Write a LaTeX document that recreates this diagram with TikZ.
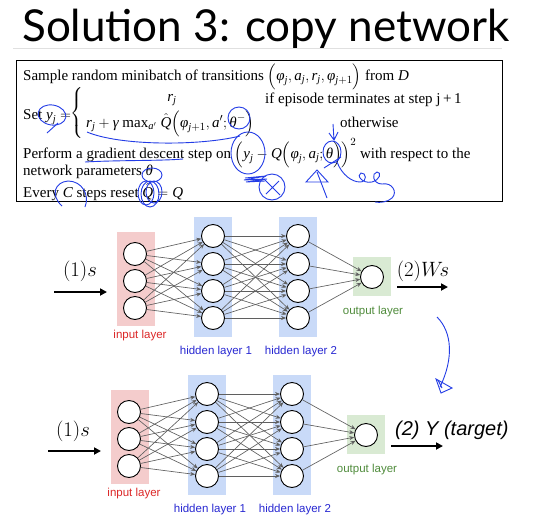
\documentclass[tikz,border=0pt]{standalone}
\usepackage{amsmath}
\usepackage{fontspec}
\setmainfont{Liberation Serif}
\newfontfamily\titlefont{Lato}
\newfontfamily\arialfont{Liberation Sans}
\usetikzlibrary{arrows.meta}
\newcommand{\vi}[1]{\textit{#1}}
\definecolor{inpfill}{RGB}{244,204,204}
\definecolor{hidfill}{RGB}{201,218,248}
\definecolor{outfill}{RGB}{217,234,211}
\definecolor{inpcol}{RGB}{220,40,40}
\definecolor{hidcol}{RGB}{40,40,210}
\definecolor{outcol}{RGB}{80,140,60}
\definecolor{edgecol}{RGB}{95,95,95}
\definecolor{blueink}{RGB}{35,60,230}
\tikzset{
  neuron/.style={circle,draw=black,fill=white,line width=0.9pt,minimum size=23pt,inner sep=0pt},
  edge/.style={draw=edgecol,line width=0.65pt,-{Stealth[length=5pt,width=4pt]}},
  iolabel/.style={font=\arialfont\fontsize{11.5}{13}\selectfont},
  bigarrow/.style={line width=1.8pt,-{Triangle[length=7pt,width=7pt]}},
  boxtext/.style={anchor=base west,inner sep=0pt,font=\fontsize{15}{17}\selectfont},
  ink/.style={draw=blueink,line width=0.9pt},
}
\newcommand{\netdraw}[3]{%
\begin{scope}[shift={(#2,#3)}]
  \fill[inpfill] (117,232) rectangle (155,326);
  \fill[hidfill] (194,217) rectangle (232,337);
  \fill[hidfill] (279,217) rectangle (317,337);
  \fill[outfill] (353,257) rectangle (391,296);
  \foreach \k/\yy in {1/254,2/281,3/308} \node[neuron] (#1i\k) at (135,\yy) {};
  \foreach \k/\yy in {1/236,2/264,3/291,4/318} \node[neuron] (#1a\k) at (213,\yy) {};
  \foreach \k/\yy in {1/236,2/264,3/291,4/318} \node[neuron] (#1b\k) at (298,\yy) {};
  \node[neuron] (#1o) at (372,277) {};
  \foreach \p in {1,2,3} \foreach \q in {1,2,3,4} \draw[edge] (#1i\p) -- (#1a\q);
  \foreach \p in {1,2,3,4} \foreach \q in {1,2,3,4} \draw[edge] (#1a\p) -- (#1b\q);
  \foreach \p in {1,2,3,4} \draw[edge] (#1b\p) -- (#1o);
  \node[iolabel,text=inpcol] (#1li) at (140,336) {input layer};
  \node[iolabel,text=hidcol] (#1la) at (216,352) {hidden layer 1};
  \node[iolabel,text=hidcol] (#1lb) at (301,352) {hidden layer 2};
  \node[iolabel,text=outcol] (#1lo) at (373,312) {output layer};
\end{scope}}
\begin{document}
\begin{tikzpicture}[x=1pt,y=-1pt]
\useasboundingbox (0,0) rectangle (536,520);
\fill[white] (0,0) rectangle (536,520);
% title
\node[anchor=base west,inner sep=0pt,font=\titlefont\fontsize{44}{50}\selectfont] (title) at (22,41) {Solution 3: copy network};
\draw[black!12,line width=0.8pt] (13,48) -- (502,48);
% algorithm box
\draw[black,line width=0.9pt] (16,60) rectangle (502,201);
\node[boxtext] (l1) at (23,80) {Sample random minibatch of transitions $\Bigl(\vi{φ}_{\vi{j}},\vi{a}_{\vi{j}},\vi{r}_{\vi{j}},\vi{φ}_{\vi{j}+1}\Bigr)$ from \vi{D}};
\node[boxtext] (set) at (23,119) {Set $\vi{y}_{\vi{j}} =$};
\node[anchor=center,inner sep=0pt,font=\fontsize{15}{17}\selectfont] (brace) at (77,113) {$\left\{\rule{0pt}{23pt}\rule[-22pt]{0pt}{22pt}\right.$};
\node[anchor=base,inner sep=0pt,font=\fontsize{15}{17}\selectfont] (c1a) at (172,101) {$\vi{r}_{\vi{j}}$};
\node[boxtext] (c1b) at (265,103) {if episode terminates at step j\,+\,1};
\node[boxtext] (c2a) at (86,127) {$\vi{r}_{\vi{j}}+\vi{γ}\ \text{max}_{\vi{a}'}\ \hat{\vi{Q}}\Bigl(\vi{φ}_{\vi{j}+1},\vi{a}';\vi{θ}^{-}\Bigr)$};
\node[boxtext] (c2b) at (340,127) {otherwise};
\node[boxtext] (l3) at (23,158) {Perform a gradient descent step on $\Bigl(\vi{y}_{\vi{j}}-\vi{Q}\Bigl(\vi{φ}_{\vi{j}},\vi{a}_{\vi{j}};\vi{θ}\Bigr)\Bigr)^{2}$ with respect to the};
\node[boxtext] (l4) at (23,175) {network parameters \vi{θ}};
\node[boxtext] (l5) at (23,197) {Every \vi{C} steps reset $\hat{\vi{Q}}=\vi{Q}$};
% networks
\netdraw{t}{0}{0}
\netdraw{b}{-6}{158}
% top io
\coordinate (tin) at (54,292);
\coordinate (tout) at (448,287);
\draw[bigarrow] (tin) -- (107,292);
\draw[bigarrow] (397,287) -- (tout);
\node[font=\fontsize{20.5}{24}\selectfont] (ts) at (80,271) {$(1)s$};
\node[font=\fontsize{21}{24}\selectfont] (tws) at (423,271) {$(2)W\!s$};
% bottom io
\coordinate (bin) at (48,451);
\coordinate (bout) at (443,446);
\draw[bigarrow] (bin) -- (101,451);
\draw[bigarrow] (391,446) -- (bout);
\node[font=\fontsize{20.5}{24}\selectfont] (bs) at (73,431) {$(1)s$};
\node[anchor=west,inner sep=0pt,font=\arialfont\itshape\fontsize{20}{24}\selectfont] (by) at (395,430) {(2) Y (target)};
% blue ink annotations
\draw[ink,rotate around={-10:(52,115)}] (52,115) ellipse (14 and 10);
\draw[ink] (58,123) -- (47,133);
\draw[ink] (87,132) .. controls (120,146) and (200,146) .. (240,136);
\draw[ink] (239,118) ellipse (11 and 11);
\draw[ink] (85,162) .. controls (120,160) and (160,161) .. (183,159);
\draw[ink] (152,175) ellipse (10 and 7);
\draw[ink] (146,193) ellipse (8 and 12);
\draw[ink] (150,194) ellipse (9 and 13);
\draw[ink] (154,192) ellipse (8 and 11);
\draw[ink] (62,206) .. controls (50,195) and (55,182) .. (68,181) .. controls (82,181) and (90,195) .. (85,207);
\draw[ink] (248,153) ellipse (17 and 21);
\draw[ink] (245,178) -- (266,176) -- (244,180) -- (267,179) -- (246,182) -- (265,181);
\draw[ink] (272,187) circle (13);
\draw[ink] (265,180) -- (280,195) (266,194) -- (279,181);
\draw[ink] (306,182) -- (317,170) -- (328,182) -- cycle;
\draw[ink] (317,172) -- (327,198);
\draw[ink] (332,152) ellipse (9 and 11);
\draw[ink] (333,124) -- (334,140) (329,133) -- (334,140) -- (338,132);
\draw[ink] (341,157) -- (324,168);
\draw[ink] (337,162) .. controls (342,175) and (352,182) .. (360,182) .. controls (368,182) and (366,172) .. (361,173) .. controls (356,175) and (362,184) .. (372,182) .. controls (380,180) and (382,172) .. (377,172) .. controls (371,173) and (373,184) .. (382,184) .. controls (392,182) and (398,192) .. (392,198) .. controls (388,202) and (380,203) .. (375,202);
\draw[ink] (437,317) .. controls (452,332) and (454,358) .. (440,387);
\draw[ink] (436,379) -- (441,393) -- (452,388) -- cycle;
\draw[ink] (438,380) -- (442,388);
\end{tikzpicture}
\end{document}
